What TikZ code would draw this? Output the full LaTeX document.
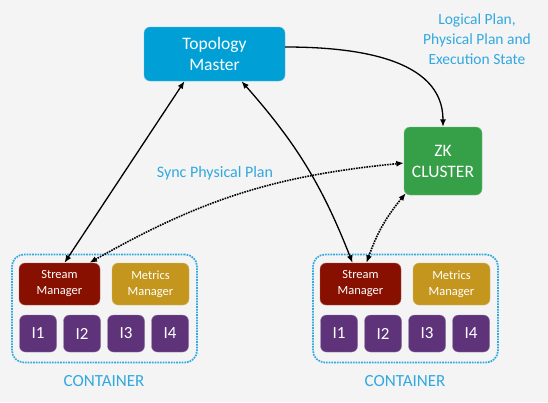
\documentclass[tikz,border=0pt]{standalone}
\usepackage{fontspec}
\setmainfont{Carlito}
\usetikzlibrary{arrows.meta}
\definecolor{bggray}{RGB}{244,244,244}
\definecolor{tmblue}{RGB}{0,160,215}
\definecolor{zkgreen}{RGB}{54,160,72}
\definecolor{smred}{RGB}{135,16,0}
\definecolor{mmgold}{RGB}{196,150,30}
\definecolor{ipurple}{RGB}{94,51,122}
\definecolor{lblblue}{RGB}{50,168,224}
\begin{document}
\begin{tikzpicture}[x=1pt,y=1pt,
  box/.style={rounded corners=6pt,text=white,align=center,draw=#1!65!white,fill=#1,inner sep=0pt},
  lbl/.style={text=lblblue,align=center},
  link/.style={line width=1.3pt,{Latex[length=7.5pt,width=6pt]}-{Latex[length=7.5pt,width=6pt]}},
  sync/.style={link,line width=1.6pt,densely dotted}]
\fill[bggray] (0,0) rectangle (548,-402);
\useasboundingbox (0,0) rectangle (548,-402);
\node[box=tmblue,minimum width=141pt,minimum height=54pt,font=\fontsize{17.5}{21}\selectfont]
  (tm) at (214.5,-54) {Topology\\Master};
\node[box=zkgreen,minimum width=78pt,minimum height=68pt,font=\fontsize{17.5}{21}\selectfont]
  (zk) at (443,-161) {ZK\\CLUSTER};
\node[lbl,font=\fontsize{15.5}{20}\selectfont] (state) at (477,-39)
  {Logical Plan,\\Physical Plan and\\Execution State};
\node[lbl,font=\fontsize{16}{20}\selectfont] (syncl) at (215,-173) {Sync Physical Plan};
\foreach \c/\x in {A/12,B/313} {
  \node[draw=lblblue,densely dotted,line width=1.7pt,rounded corners=12pt,
    minimum width=185pt,minimum height=108pt] (ct\c) at (\x+92.5,-308.5) {};
  \node[box=smred,minimum width=81pt,minimum height=42pt,font=\fontsize{12.5}{16}\selectfont]
    (sm\c) at (\x+47.5,-284) {Stream\\Manager};
  \node[box=mmgold,minimum width=77pt,minimum height=42pt,font=\fontsize{12.5}{16}\selectfont]
    (mm\c) at (\x+138.5,-284) {Metrics\\Manager};
  \foreach \i in {1,...,4}
    \node[box=ipurple,minimum size=37pt,font=\fontsize{17}{18}\selectfont]
      (i\c\i) at (\x+26+44*\i-44,-333.5) {I\i};
  \node[lbl,font=\fontsize{17}{18}\selectfont] (cl\c) at (\x+92,-381) {CONTAINER};
}
\draw[line width=1.3pt,-{Latex[length=7.5pt,width=6pt]}]
  ([yshift=7pt]tm.east) to[out=0,in=90] (zk.north);
\draw[link] ([xshift=-30pt]tm.south) -- ([xshift=5pt]smA.north);
\draw[link] ([xshift=27pt]tm.south) to[bend left=10] ([xshift=-8pt]smB.north);
\draw[sync] ([xshift=30pt]smA.north) to[bend left=12] ([yshift=-2pt]zk.west);
\draw[sync] ([xshift=6pt]smB.north) to[bend left=10] ([shift={(2pt,2pt)}]zk.south west);
\end{tikzpicture}
\end{document}
